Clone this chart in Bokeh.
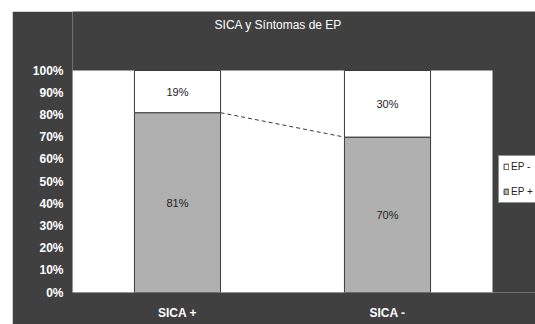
from bokeh.plotting import figure
from bokeh.models import (ColumnDataSource, FixedTicker, Legend, LegendItem,
                          Range1d, LabelSet, Label)
from bokeh.core.properties import value
from bokeh.embed import file_html
from bokeh.resources import INLINE

# Stacked percentages per group
categories = ["SICA +", "SICA -"]
ep_pos = [81, 70]   # lower segment (grey)
ep_neg = [19, 30]   # upper segment (white)
y_ticks = [0, 10, 20, 30, 40, 50, 60, 70, 80, 90, 100]
title_text = "SICA y Síntomas de EP"

BG = "#404040"
GREY = "#b0b0b0"
EDGE = "#3a3a3a"
FONT = "Liberation Sans"

n = len(categories)
x_pos = [i + 0.5 for i in range(n)]
bar_w = 0.41

# The frame covers the whole dark panel to the right of the tick labels and
# above the category labels; the plot area is a white block inside it.
PLOT_W, FRAME_W = 420, 463
PLOT_H, FRAME_H = 222, 281

p = figure(width=523, height=313, output_backend="svg", toolbar_location=None,
           x_range=Range1d(0, n * FRAME_W / PLOT_W),
           y_range=Range1d(0, 100 * FRAME_H / PLOT_H),
           min_border_left=60, min_border_right=0, min_border_top=0,
           min_border_bottom=32, margin=(11, 0, 0, 12))
p.border_fill_color = BG
p.background_fill_color = BG
p.outline_line_color = None
p.grid.visible = False

p.quad(left=[0], right=[n], bottom=[0], top=[100], fill_color="white", line_color=None)

# Chart title, drawn in the dark band above the plot area
p.add_layout(Label(x=n * 0.49, y=100 + 20.3, text=title_text,
                   text_align="center", text_baseline="middle",
                   text_font=FONT, text_font_size="12px",
                   text_color="white"))

src = ColumnDataSource(dict(
    x=x_pos,
    pos=ep_pos,
    neg=ep_neg,
    top=[a + b for a, b in zip(ep_pos, ep_neg)],
    pos_mid=[a / 2 for a in ep_pos],
    neg_mid=[a + b / 2 for a, b in zip(ep_pos, ep_neg)],
    pos_lbl=[f"{v}%" for v in ep_pos],
    neg_lbl=[f"{v}%" for v in ep_neg],
))

r_pos = p.vbar(x="x", width=bar_w, bottom=0, top="pos", source=src,
               fill_color=GREY, line_color=EDGE, line_width=1)
r_neg = p.vbar(x="x", width=bar_w, bottom="pos", top="top", source=src,
               fill_color="white", line_color=EDGE, line_width=1)

# Series line joining the tops of the lower segments
p.line(x=[x_pos[0] + bar_w / 2, x_pos[1] - bar_w / 2], y=[ep_pos[0], ep_pos[1]],
       line_color=EDGE, line_width=1, line_dash="4 3")

for ycol, tcol in (("pos_mid", "pos_lbl"), ("neg_mid", "neg_lbl")):
    p.add_layout(LabelSet(x="x", y=ycol, text=tcol, source=src,
                          text_align="center", text_baseline="middle",
                          text_font=value(FONT), text_font_size="11px",
                          text_color="#222222"))

# Axes
p.yaxis.ticker = FixedTicker(ticks=y_ticks)
p.yaxis.major_label_overrides = {t: f"{t}%" for t in y_ticks}
p.xaxis.ticker = FixedTicker(ticks=x_pos)
p.xaxis.major_label_overrides = {x: c for x, c in zip(x_pos, categories)}
for ax in (p.xaxis[0], p.yaxis[0]):
    ax.major_label_text_color = "white"
    ax.major_label_text_font = FONT
    ax.major_label_text_font_size = "12px"
    ax.major_label_text_font_style = "bold"
    ax.axis_line_color = None
    ax.major_tick_line_color = None
    ax.minor_tick_line_color = None
p.yaxis.major_label_standoff = 3
p.xaxis.major_label_standoff = 7

legend = Legend(items=[LegendItem(label="EP -", renderers=[r_neg]),
                       LegendItem(label="EP +", renderers=[r_pos])],
                location=(426, 89), orientation="vertical",
                background_fill_color="white", background_fill_alpha=1,
                border_line_color="#222222", border_line_width=1,
                label_text_font=FONT, label_text_font_size="10px",
                label_text_color="#222222",
                glyph_width=6, glyph_height=7, label_height=13,
                label_standoff=2, padding=4, spacing=12, margin=0)
p.add_layout(legend, "center")

open("out.html", "w").write(file_html(p, INLINE))
